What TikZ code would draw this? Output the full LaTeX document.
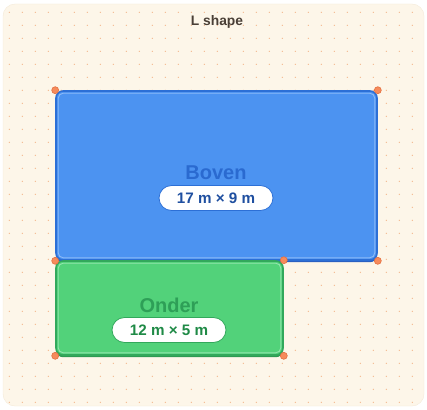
\documentclass[tikz,border=0pt]{standalone}
\usepackage{fontspec}
\setmainfont{Liberation Sans}
\usetikzlibrary{calc,positioning}

\definecolor{paper}{HTML}{FDF6E9}
\definecolor{paperline}{HTML}{F4EAD8}
\definecolor{griddot}{HTML}{F4B98F}
\definecolor{titlecol}{HTML}{4A3F36}
\definecolor{bovenfill}{HTML}{4C93F1}
\definecolor{bovenline}{HTML}{2C6FD6}
\definecolor{bovenshade}{HTML}{2A60C2}
\definecolor{bovenrim}{HTML}{8CBAF8}
\definecolor{boventext}{HTML}{2A6AD0}
\definecolor{bovenmaat}{HTML}{1F4FA0}
\definecolor{onderfill}{HTML}{52D27A}
\definecolor{onderline}{HTML}{32A85B}
\definecolor{ondershade}{HTML}{2E9A52}
\definecolor{onderrim}{HTML}{93E5AD}
\definecolor{ondertext}{HTML}{2E9F57}
\definecolor{ondermaat}{HTML}{1F8A46}
\definecolor{hoekfill}{HTML}{F68B5C}
\definecolor{hoekline}{HTML}{E46F40}

\tikzset{
  plan/.style={rectangle, rounded corners=7pt, line width=1.6pt, inner sep=0pt},
  bovenbox/.style={plan, fill=bovenfill, draw=bovenline,
    preaction={fill=bovenshade, transform canvas={yshift=-2.2pt}}},
  onderbox/.style={plan, fill=onderfill, draw=onderline,
    preaction={fill=ondershade, transform canvas={yshift=-2.2pt}}},
  naam/.style={font=\fontsize{20}{21}\selectfont\bfseries},
  maat/.style={rectangle, rounded corners=12.5pt, fill=white, line width=0.8pt,
    minimum width=114pt, minimum height=25pt, inner sep=0pt,
    font=\fontsize{15.2}{16}\selectfont\bfseries},
  hoek/.style={circle, fill=hoekfill, draw=hoekline, line width=0.6pt,
    inner sep=0pt, minimum size=7pt},
}

\begin{document}
\begin{tikzpicture}[x=1pt,y=-1pt]
  \useasboundingbox (0,0) rectangle (427,409);

  % paper with dot grid
  \draw[fill=paper, draw=paperline, rounded corners=12pt] (3,4) rectangle (424,406);
  \foreach \i in {0,...,31}
    \foreach \j in {0,...,30}
      \fill[griddot] (9.3+13*\i,12.3+13*\j) circle (0.7);

  \node[font=\fontsize{13.8}{14}\selectfont\bfseries, text=titlecol] (title) at (217,21.5) {L shape};

  \node[bovenbox, minimum width=321pt, minimum height=169pt] (boven) at (216.5,175.5) {};
  \node[onderbox, minimum width=227pt, minimum height=94pt] (onder) at (169.5,308) {};

  % light inner rims
  \draw[bovenrim, line width=0.9pt, rounded corners=5pt] ($(boven.north west)+(3,3)$) rectangle ($(boven.south east)+(-3,-3)$);
  \draw[onderrim, line width=0.9pt, rounded corners=5pt] ($(onder.north west)+(3,3)$) rectangle ($(onder.south east)+(-3,-3)$);

  \node[naam, text=boventext] (bovenname) at (216,173) {Boven};
  \node[maat, draw=bovenline, text=bovenmaat] (bovenmaat) at (216,198) {17 m × 9 m};
  \node[naam, text=ondertext] (ondername) at (169,305) {Onder};
  \node[maat, draw=onderline, text=ondermaat] (ondermaat) at (169,330) {12 m × 5 m};

  \foreach \c in {boven.north west, boven.north east, boven.south west, boven.south east,
                  onder.north east, onder.south west, onder.south east}
    \node[hoek] at (\c) {};
\end{tikzpicture}
\end{document}
